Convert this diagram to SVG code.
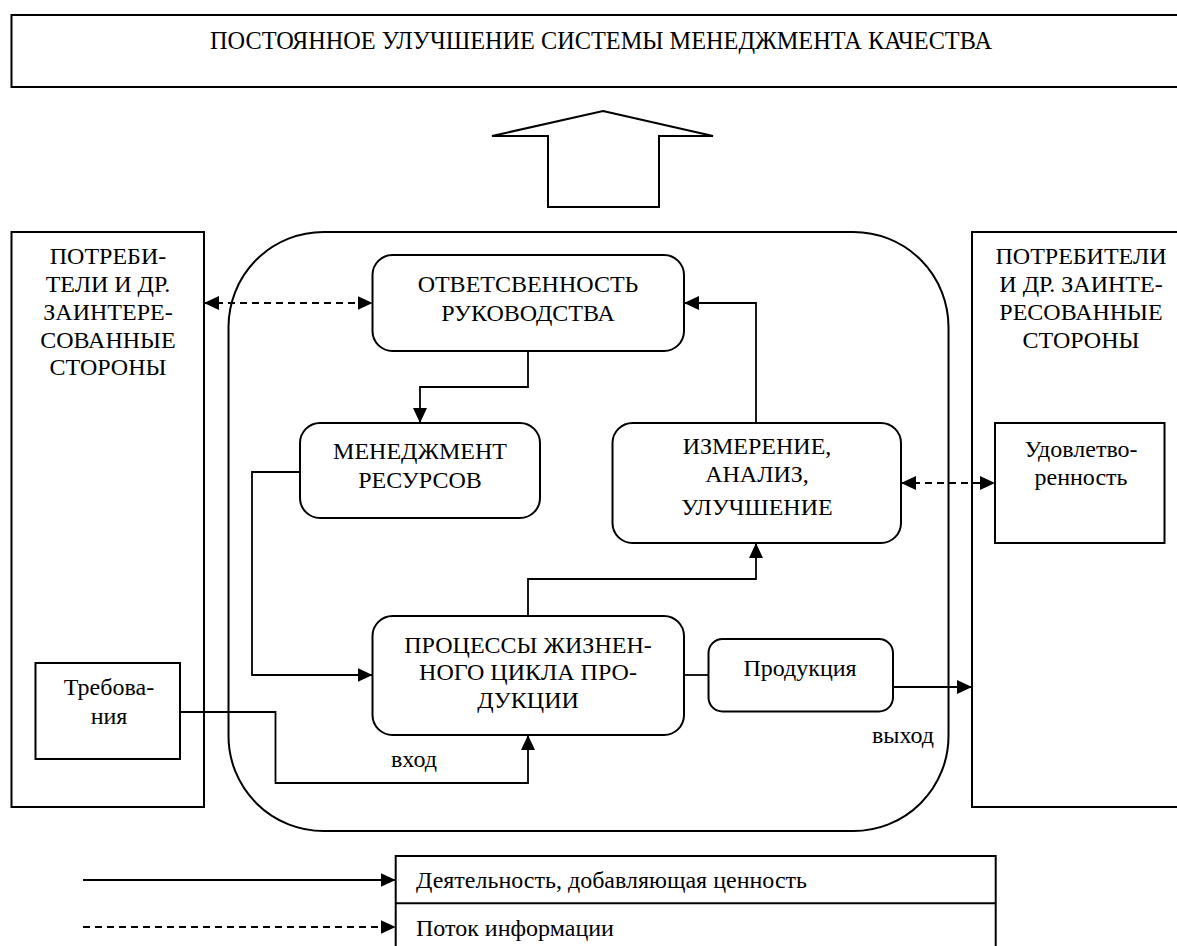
<svg xmlns="http://www.w3.org/2000/svg" width="1177" height="946" viewBox="0 0 1177 946">
<style>
text{font-family:'Liberation Serif','Times New Roman',serif;font-size:24px;fill:#000}
.c{text-anchor:middle}
.box{fill:#fff;stroke:#000;stroke-width:2}
.ln{fill:none;stroke:#000;stroke-width:1.8}
.dash{stroke-dasharray:7 5}
</style>
<defs>
<marker id="ah" markerUnits="userSpaceOnUse" markerWidth="15" markerHeight="14" refX="15" refY="7" orient="auto-start-reverse">
<path d="M0,0 L15,7 L0,14 z" fill="#000"/>
</marker>
</defs>
<rect width="1177" height="946" fill="#fff"/>
<g id="top-box">
<rect class="box" x="11.5" y="15" width="1250" height="72"/>
<text class="c" x="601" y="49" style="font-size:24.3px">ПОСТОЯННОЕ УЛУЧШЕНИЕ СИСТЕМЫ МЕНЕДЖМЕНТА КАЧЕСТВА</text>
</g>
<g id="block-arrow">
<polygon points="603,111 713,136 659,136 659,207 548,207 548,136 492,136" fill="#fff" stroke="#000" stroke-width="2"/>
</g>
<g id="left-box">
<rect class="box" x="11.5" y="232" width="192.5" height="575"/>
<text class="c" x="108" y="264">ПОТРЕБИ-</text>
<text class="c" x="108" y="292">ТЕЛИ И ДР.</text>
<text class="c" x="108" y="320">ЗАИНТЕРЕ-</text>
<text class="c" x="108" y="348">СОВАННЫЕ</text>
<text class="c" x="108" y="375">СТОРОНЫ</text>
</g>
<g id="right-box">
<rect class="box" x="972" y="232" width="260" height="575"/>
<text class="c" x="1081" y="264">ПОТРЕБИТЕЛИ</text>
<text class="c" x="1081" y="292">И ДР. ЗАИНТЕ-</text>
<text class="c" x="1081" y="320">РЕСОВАННЫЕ</text>
<text class="c" x="1081" y="348">СТОРОНЫ</text>
</g>
<g id="container">
<rect class="box" x="228.5" y="232" width="720" height="599" rx="95" ry="95" fill="none"/>
</g>
<g id="requirements">
<rect class="box" x="35.5" y="663" width="144.5" height="96"/>
<text class="c" x="109" y="695">Требова-</text>
<text class="c" x="109" y="724">ния</text>
</g>
<g id="satisfaction">
<rect class="box" x="995" y="423" width="169.5" height="120"/>
<text class="c" x="1081" y="457">Удовлетво-</text>
<text class="c" x="1081" y="485">ренность</text>
</g>
<g id="management">
<rect class="box" x="372.5" y="255" width="311.5" height="96" rx="20" ry="20"/>
<text class="c" x="528" y="292">ОТВЕТСВЕННОСТЬ</text>
<text class="c" x="528" y="321">РУКОВОДСТВА</text>
</g>
<g id="resources">
<rect class="box" x="300" y="423" width="240" height="95" rx="20" ry="20"/>
<text class="c" x="420" y="459">МЕНЕДЖМЕНТ</text>
<text class="c" x="420" y="488">РЕСУРСОВ</text>
</g>
<g id="measurement">
<rect class="box" x="612.5" y="423" width="288.5" height="120" rx="20" ry="20"/>
<text class="c" x="757" y="454">ИЗМЕРЕНИЕ,</text>
<text class="c" x="757" y="482">АНАЛИЗ,</text>
<text class="c" x="757" y="515">УЛУЧШЕНИЕ</text>
</g>
<g id="processes">
<rect class="box" x="372.5" y="616" width="311.5" height="119" rx="20" ry="20"/>
<text class="c" x="528" y="653">ПРОЦЕССЫ ЖИЗНЕН-</text>
<text class="c" x="528" y="680">НОГО ЦИКЛА ПРО-</text>
<text class="c" x="528" y="708">ДУКЦИИ</text>
</g>
<g id="product">
<rect class="box" x="708.5" y="639" width="184.5" height="72.5" rx="14" ry="14"/>
<text class="c" x="800" y="676">Продукция</text>
</g>
<g id="connectors">
<path class="ln" d="M528,351 V387 H420 V423" marker-end="url(#ah)"/>
<path class="ln" d="M756,423 V303 H684" marker-end="url(#ah)"/>
<path class="ln" d="M528,616 V579 H756 V543" marker-end="url(#ah)"/>
<path class="ln" d="M300,472 H252 V675 H372.5" marker-end="url(#ah)"/>
<path class="ln" d="M180,712 H275.5 V783 H528 V735" marker-end="url(#ah)"/>
<path class="ln" d="M684,675 H708.5"/>
<path class="ln" d="M893,687 H972" marker-end="url(#ah)"/>
<path class="ln dash" d="M204,303 H372.5" marker-start="url(#ah)" marker-end="url(#ah)"/>
<path class="ln dash" d="M901,483 H995" marker-start="url(#ah)" marker-end="url(#ah)"/>
</g>
<g id="labels">
<text x="391" y="767">вход</text>
<text x="872" y="743">выход</text>
</g>
<g id="legend">
<rect class="box" x="395.7" y="856" width="600" height="100"/>
<line x1="395.7" y1="903.3" x2="995.7" y2="903.3" stroke="#000" stroke-width="2"/>
<path class="ln" d="M83,880 H395.7" marker-end="url(#ah)"/>
<path class="ln dash" d="M83,927 H395.7" marker-end="url(#ah)"/>
<text x="416" y="888">Деятельность, добавляющая ценность</text>
<text x="416" y="936">Поток информации</text>
</g>
</svg>
